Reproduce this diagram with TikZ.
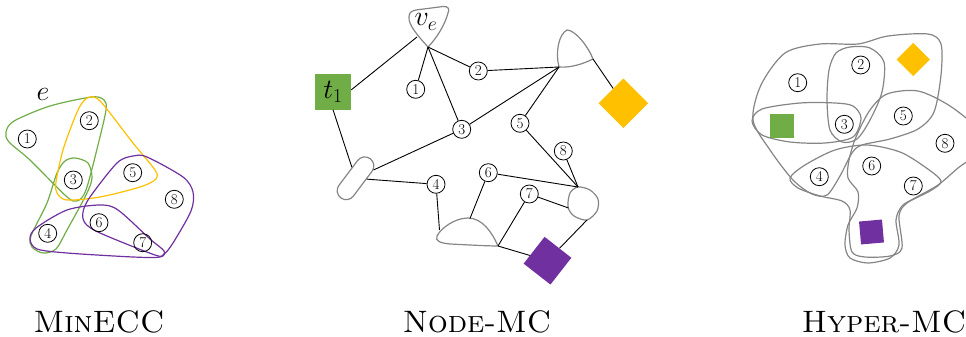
\RequirePackage{fix-cm}
\documentclass[tikz,border=0pt]{standalone}
\usetikzlibrary{shapes.misc}
\definecolor{egreen}{HTML}{70AD47}
\definecolor{eyellow}{HTML}{FFC000}
\definecolor{epurple}{HTML}{7030A0}
\definecolor{outlinegray}{HTML}{858585}
\tikzset{
  num/.style={circle, draw, line width=0.8pt, inner sep=0pt, minimum size=18pt, font=\fontsize{15}{15}\selectfont},
  link/.style={line width=0.9pt},
  hedge/.style={line width=1.2pt},
  grayline/.style={draw=outlinegray, line width=1.2pt},
  caption/.style={anchor=base, inner sep=0pt, font=\fontsize{31}{34}\selectfont\scshape},
  mathlbl/.style={inner sep=0pt, font=\fontsize{28}{30}\selectfont},
  terminal/.style={inner sep=0pt, minimum size=#1},
}
\begin{document}
\begin{tikzpicture}[x=1pt, y=-1pt]
\useasboundingbox (0,0) rectangle (966,337);
\clip (0,0) rectangle (966,337);

% ================= MinECC: coloured hyperedges =================
\draw[hedge, egreen] plot[smooth cycle] coordinates {(6,132) (14,121) (50,106) (92,97) (104,100) (106,110) (98,145) (86,190) (77,201) (66,196) (30,160) (9,142)};
\draw[hedge, egreen] plot[smooth cycle] coordinates {(75,158) (88,163) (92,178) (86,195) (67,230) (56,249) (43,253) (32,247) (31,236) (47,203) (57,173) (65,161)};
\draw[hedge, eyellow] plot[smooth cycle] coordinates {(90,97) (101,102) (133,143) (155,170) (156,179) (140,187) (100,197) (67,200) (57,193) (56,182) (63,150) (75,117) (82,103)};
\draw[hedge, epurple] plot[smooth cycle] coordinates {(133,156) (147,157) (183,177) (193,192) (191,211) (173,243) (164,254) (155,255) (100,233) (85,223) (83,212) (90,197) (117,163)};
\draw[hedge, epurple] plot[smooth cycle] coordinates {(30,239) (36,228) (67,210) (100,205) (118,210) (150,239) (164,251) (160,257) (133,257) (67,253) (37,249)};

\node[mathlbl] (elabel) at (43,94) {$e$};
\node[num] (m1) at (27.3,139) {1};
\node[num] (m2) at (89.3,120.7) {2};
\node[num] (m3) at (73.3,180) {3};
\node[num] (m4) at (47.7,233.3) {4};
\node[num] (m5) at (132.7,172.7) {5};
\node[num] (m6) at (99,222.7) {6};
\node[num] (m7) at (142.7,242.7) {7};
\node[num] (m8) at (174.3,199.3) {8};

% ================= Node-MC =================
% hyperedge vertex v_e
\draw[grayline] (428,47) .. controls (419,37) and (408,25) .. (409,17)
  .. controls (409,12) and (412,11) .. (416,10)
  -- (443,6.5) .. controls (448,6) and (450,9) .. (448,13)
  .. controls (445,25) and (436,39) .. (428,47);
\node[mathlbl] (ve) at (426,22) {$v_e$};
\coordinate (veB) at (428,47);
\coordinate (veL) at (417,37);

% hyperedge vertex of the yellow edge
\draw[grayline] (559,67) .. controls (555,52) and (559,34) .. (567,30)
  .. controls (575,30) and (588,46) .. (593,59)
  .. controls (583,64) and (570,68) .. (559,67);
\coordinate (hubA) at (559,67);
\coordinate (hubB) at (593,59);

% hyperedge vertex between 4 and 6
\draw[grayline] (498,246) .. controls (492,232) and (482,218) .. (468,218)
  .. controls (455,218) and (441,228) .. (437,236)
  .. controls (435,241) and (440,243) .. (450,244)
  .. controls (470,245) and (488,246) .. (498,246);
\coordinate (domeL) at (439.5,230);
\coordinate (domeT) at (470,218.5);
\coordinate (domeR) at (498,246);

% hyperedge vertex between 7 and 8
\draw[grayline] plot[smooth cycle] coordinates {(578,187) (570,193) (568,207) (574,216) (587,220) (597,211) (598,199) (590,190)};
\coordinate (blobT) at (578,187);
\coordinate (blobL) at (568.5,208);
\coordinate (blobB) at (587,220);

% hyperedge vertex between t1, 3 and 4
\node[grayline, rounded rectangle, minimum width=49pt, minimum height=18pt, inner sep=0pt, rotate=53] (pill) at (355.5,178.3) {};

% terminals
\node[terminal=36pt, fill=egreen, mathlbl] (t1) at (333,91.5) {$t_1$};
\node[terminal=35pt, fill=eyellow, rotate=45] (yd) at (623.3,103.3) {};
\node[terminal=34pt, fill=epurple, rotate=52] (pd) at (547.5,260.7) {};

\node[num] (n1) at (415.7,89.3) {1};
\node[num] (n2) at (478.3,71) {2};
\node[num] (n3) at (461.7,129.3) {3};
\node[num] (n4) at (436,184.3) {4};
\node[num] (n5) at (520,123.3) {5};
\node[num] (n6) at (488.3,172.7) {6};
\node[num] (n7) at (529.3,194) {7};
\node[num] (n8) at (563.3,151) {8};

\draw[link] (veL) -- (t1.5);
\draw[link] (veB) -- (n1);
\draw[link] (veB) -- (n2);
\draw[link] (veB) -- (n3);
\draw[link] (n2) -- (hubA);
\draw[link] (n3) -- (hubA);
\draw[link] (n5) -- (hubA);
\draw[link] (hubB) -- (yd);
\draw[link] (t1.south) -- (pill);
\draw[link] (pill) -- (n3);
\draw[link] (pill) -- (n4);
\draw[link] (n4) -- (domeL);
\draw[link] (n6) -- (domeT);
\draw[link] (n7) -- (domeR);
\draw[link] (domeR) -- (pd);
\draw[link] (n5) -- (blobT);
\draw[link] (n8) -- (blobT);
\draw[link] (n6) -- (blobT);
\draw[link] (n7) -- (blobL);
\draw[link] (blobB) -- (pd);

% ================= Hyper-MC =================
\draw[grayline] plot[smooth cycle] coordinates {(752,121) (762,109) (800,103) (835,103) (853,106) (861,118) (853,137) (825,143) (790,142) (762,135)};
\draw[grayline] plot[smooth cycle] coordinates {(829,70) (836,53) (850,47) (870,48) (884,62) (882,92) (870,120) (857,139) (842,142) (830,130) (827,100)};
\draw[grayline] plot[smooth cycle] coordinates {(753,120) (761,85) (785,53) (820,44) (858,44) (888,36) (928,34) (941,44) (941,75) (934,112) (918,129) (890,139) (862,145) (852,153) (840,176) (827,195) (812,194) (793,180) (770,150)};
\draw[grayline] plot[smooth cycle] coordinates {(887,94) (918,91) (950,106) (978,130) (978,152) (958,168) (938,185) (915,198) (902,206) (896,220) (899,245) (890,258) (868,263) (850,258) (845,245) (848,225) (857,208) (858,192) (848,178) (849,160) (856,137) (870,110)};
\draw[grayline] plot[smooth cycle] coordinates {(790,178) (805,165) (835,150) (867,145) (900,152) (925,167) (941,181) (930,191) (907,203) (899,216) (902,248) (890,256) (865,257) (852,252) (849,230) (850,210) (842,201) (820,196) (798,188)};

\node[terminal=24pt, fill=egreen] (hg) at (782,126) {};
\node[terminal=23.5pt, fill=eyellow, rotate=45] (hy) at (913.3,59.5) {};
\node[terminal=23pt, fill=epurple, rotate=5] (hp) at (871.5,232) {};

\node[num] (h1) at (797.7,82.7) {1};
\node[num] (h2) at (860.7,65) {2};
\node[num] (h3) at (844.3,124.3) {3};
\node[num] (h4) at (819.3,176.7) {4};
\node[num] (h5) at (903.3,116) {5};
\node[num] (h6) at (871.7,166) {6};
\node[num] (h7) at (913.3,186) {7};
\node[num] (h8) at (945,143.3) {8};

% ================= captions =================
\node[caption] (capA) at (99,332) {MinECC};
\node[caption] (capB) at (477,332) {Node-MC};
\node[caption] (capC) at (884,332) {Hyper-MC};
\end{tikzpicture}
\end{document}
